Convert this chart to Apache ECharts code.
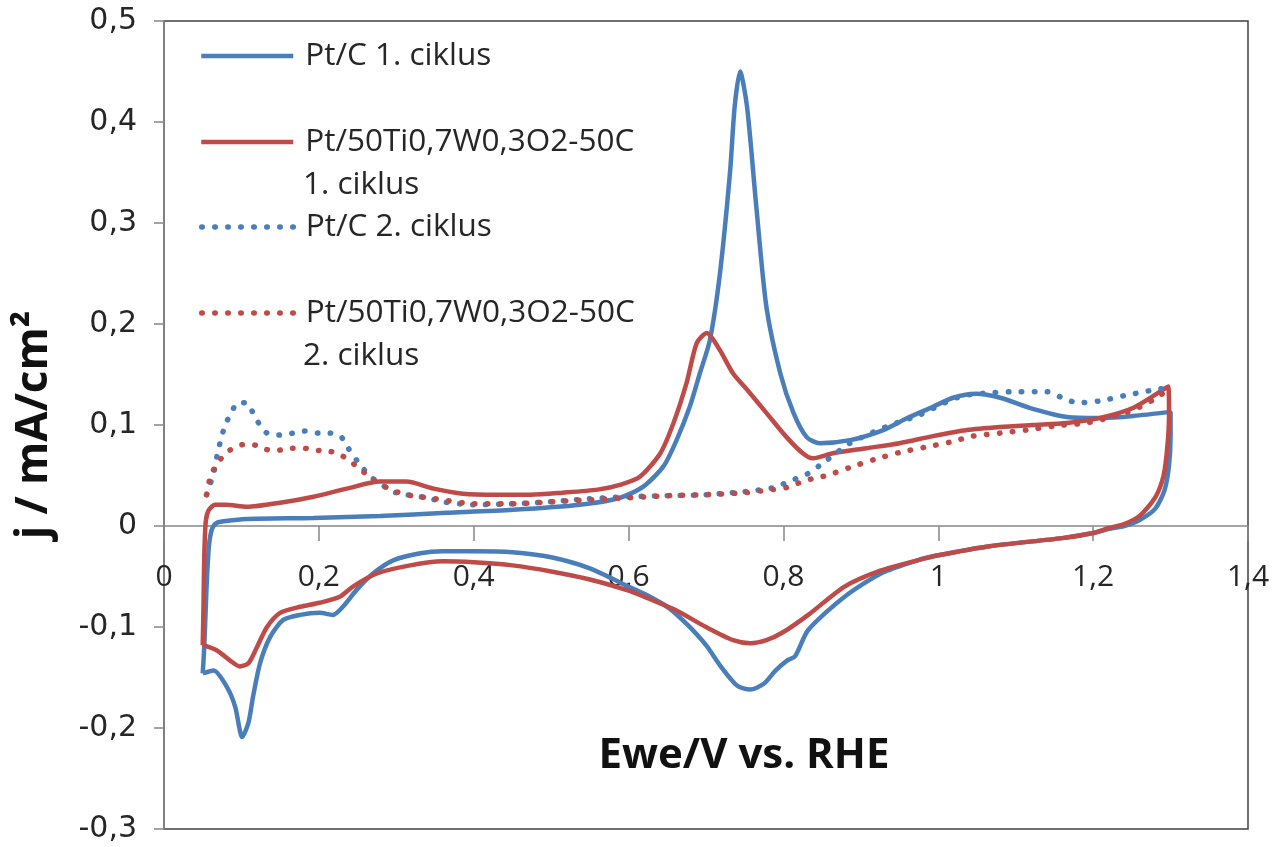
<!DOCTYPE html>
<html>
<head>
<meta charset="utf-8">
<script src="https://cdn.jsdelivr.net/npm/echarts@6/dist/echarts.min.js"></script>
<style>html,body{margin:0;padding:0;background:#fff;}#c{width:1279px;height:847px;}</style>
</head>
<body>
<div id="c"></div>
<script>
// Series names
const seriesNames = ['Pt/C 1. ciklus', 'Pt/50Ti0,7W0,3O2-50C 1. ciklus', 'Pt/C 2. ciklus', 'Pt/50Ti0,7W0,3O2-50C 2. ciklus'];
const legendFirstLines = ['Pt/C 1. ciklus', 'Pt/50Ti0,7W0,3O2-50C', 'Pt/C 2. ciklus', 'Pt/50Ti0,7W0,3O2-50C'];
const legendSecondLines = ['', '1. ciklus', '', '2. ciklus'];
const xTicks = [0, 0.2, 0.4, 0.6, 0.8, 1, 1.2, 1.4];
const yTicks = [-0.3, -0.2, -0.1, 0, 0.1, 0.2, 0.3, 0.4, 0.5];

// Pt/C 1st cycle (anodic then cathodic sweep) [E, j]
const ptc1 = [
[0.05,-0.146],[0.052,-0.12],[0.055,-0.06],[0.058,-0.02],[0.062,-0.003],[0.068,0.003],[0.08,0.005],[0.107,0.007],[0.193,0.008],[0.279,0.01],[0.365,0.013],[0.451,0.016],[0.537,0.021],[0.589,0.028],[0.619,0.039],[0.645,0.059],[0.662,0.085],[0.679,0.118],[0.692,0.151],[0.705,0.184],[0.718,0.25],[0.731,0.35],[0.737,0.415],[0.744,0.45],[0.753,0.415],[0.765,0.316],[0.778,0.217],[0.796,0.151],[0.813,0.112],[0.83,0.088],[0.847,0.082],[0.886,0.085],[0.929,0.095],[0.96,0.107],[0.993,0.118],[1.019,0.127],[1.049,0.131],[1.08,0.127],[1.122,0.116],[1.166,0.108],[1.209,0.107],[1.252,0.109],[1.3,0.113],
[1.3,0.09],[1.298,0.06],[1.292,0.035],[1.28,0.017],[1.26,0.006],[1.24,0.0],[1.22,-0.003],[1.2,-0.007],[1.16,-0.012],[1.066,-0.02],[1.0,-0.029],[0.973,-0.034],[0.926,-0.047],[0.879,-0.07],[0.832,-0.103],[0.815,-0.129],[0.805,-0.133],[0.79,-0.143],[0.775,-0.156],[0.757,-0.162],[0.74,-0.158],[0.72,-0.14],[0.7,-0.118],[0.675,-0.097],[0.65,-0.08],[0.62,-0.067],[0.6,-0.06],[0.55,-0.042],[0.5,-0.031],[0.45,-0.026],[0.4,-0.025],[0.36,-0.025],[0.331,-0.027],[0.296,-0.034],[0.27,-0.047],[0.249,-0.063],[0.231,-0.08],[0.218,-0.088],[0.201,-0.086],[0.176,-0.088],[0.154,-0.093],[0.137,-0.11],[0.124,-0.136],[0.115,-0.169],[0.109,-0.195],[0.101,-0.209],[0.092,-0.179],[0.081,-0.159],[0.064,-0.143],[0.05,-0.146]
];

// Pt/50Ti0,7W0,3O2-50C 1st cycle
const ptti1 = [
[0.05,-0.118],[0.051,-0.08],[0.052,-0.03],[0.054,0.005],[0.058,0.016],[0.066,0.021],[0.08,0.021],[0.107,0.019],[0.15,0.023],[0.193,0.029],[0.236,0.037],[0.279,0.044],[0.313,0.044],[0.348,0.037],[0.386,0.032],[0.43,0.031],[0.473,0.031],[0.515,0.033],[0.56,0.036],[0.59,0.041],[0.615,0.049],[0.641,0.072],[0.658,0.102],[0.675,0.142],[0.688,0.181],[0.701,0.191],[0.718,0.174],[0.735,0.151],[0.753,0.135],[0.778,0.112],[0.804,0.088],[0.825,0.072],[0.838,0.067],[0.864,0.072],[0.907,0.077],[0.95,0.082],[0.993,0.089],[1.037,0.095],[1.08,0.098],[1.122,0.1],[1.166,0.102],[1.209,0.107],[1.252,0.117],[1.297,0.138],
[1.298,0.11],[1.296,0.08],[1.291,0.05],[1.28,0.028],[1.26,0.01],[1.24,0.002],[1.22,-0.002],[1.2,-0.007],[1.16,-0.012],[1.066,-0.02],[1.0,-0.029],[0.973,-0.034],[0.926,-0.044],[0.879,-0.06],[0.832,-0.088],[0.8,-0.105],[0.778,-0.113],[0.757,-0.116],[0.735,-0.113],[0.7,-0.1],[0.66,-0.083],[0.62,-0.07],[0.6,-0.064],[0.55,-0.053],[0.5,-0.045],[0.45,-0.039],[0.4,-0.036],[0.36,-0.035],[0.318,-0.039],[0.275,-0.047],[0.244,-0.06],[0.227,-0.07],[0.201,-0.076],[0.176,-0.08],[0.15,-0.086],[0.133,-0.1],[0.12,-0.12],[0.109,-0.136],[0.098,-0.139],[0.085,-0.133],[0.068,-0.123],[0.05,-0.118]
];

// Pt/C 2nd cycle (anodic sweep)
const ptc2 = [
[0.055,0.031],[0.064,0.052],[0.07,0.075],[0.079,0.1],[0.087,0.112],[0.095,0.122],[0.107,0.122],[0.115,0.112],[0.123,0.101],[0.133,0.092],[0.15,0.09],[0.167,0.092],[0.182,0.094],[0.199,0.092],[0.214,0.092],[0.229,0.088],[0.238,0.077],[0.249,0.065],[0.257,0.057],[0.268,0.048],[0.279,0.042],[0.296,0.034],[0.313,0.031],[0.34,0.028],[0.36,0.024],[0.4,0.021],[0.45,0.022],[0.5,0.024],[0.55,0.027],[0.6,0.029],[0.65,0.03],[0.7,0.031],[0.75,0.034],[0.787,0.038],[0.81,0.045],[0.832,0.052],[0.847,0.06],[0.873,0.075],[0.886,0.082],[0.916,0.093],[0.946,0.102],[0.976,0.11],[0.995,0.117],[1.02,0.126],[1.04,0.13],[1.07,0.132],[1.1,0.133],[1.14,0.133],[1.16,0.127],[1.18,0.122],[1.21,0.124],[1.24,0.129],[1.26,0.132],[1.28,0.135],[1.3,0.137]
];

// Pt/50Ti0,7W0,3O2-50C 2nd cycle (anodic sweep)
const ptti2 = [
[0.055,0.031],[0.059,0.046],[0.066,0.059],[0.074,0.067],[0.085,0.075],[0.098,0.08],[0.113,0.081],[0.13,0.076],[0.147,0.075],[0.165,0.077],[0.18,0.077],[0.197,0.075],[0.214,0.074],[0.229,0.07],[0.244,0.062],[0.257,0.054],[0.268,0.047],[0.28,0.041],[0.3,0.034],[0.32,0.03],[0.35,0.027],[0.4,0.022],[0.45,0.022],[0.5,0.024],[0.55,0.026],[0.6,0.028],[0.65,0.03],[0.7,0.031],[0.75,0.033],[0.785,0.036],[0.804,0.038],[0.821,0.043],[0.838,0.047],[0.856,0.05],[0.886,0.058],[0.918,0.066],[0.951,0.073],[0.983,0.078],[1.015,0.083],[1.045,0.089],[1.08,0.092],[1.114,0.095],[1.15,0.099],[1.19,0.102],[1.22,0.107],[1.252,0.115],[1.28,0.126],[1.3,0.137]
];

const BLUE = '#4A7EBB', RED = '#BE4B48';
const FONT = 'Open Sans';
const TXT = '#262626';
const fmt = v => (Math.round(v * 10) / 10).toString().replace('.', ',');

const chart = echarts.init(document.getElementById('c'), null, {renderer: 'canvas'});

const dataSets = [ptc1, ptti1, ptc2, ptti2];
const colors = [BLUE, RED, BLUE, RED];
const dotted = [false, false, true, true];

const series = dataSets.map((d, i) => ({
  name: seriesNames[i],
  type: 'line',
  data: d,
  symbol: 'none',
  showSymbol: false,
  smooth: 0.25,
  z: 2 + i,
  color: colors[i],
  lineStyle: dotted[i]
    ? {color: colors[i], width: 5.5, type: [0.5, 12.5], cap: 'round'}
    : {color: colors[i], width: 4.5},
  emphasis: {disabled: true}
}));

const legendCenters = [56, 142, 227, 313];
const legends = seriesNames.map((n, i) => ({
  data: [n],
  left: 199,
  top: legendCenters[i] - 20,
  padding: 0,
  orient: 'vertical',
  itemWidth: 92,
  itemHeight: 14,
  selectedMode: false,
  formatter: () => legendFirstLines[i],
  itemStyle: {opacity: 0},
  textStyle: {fontSize: 31.5, fontFamily: FONT, color: TXT, lineHeight: 40, padding: [0, 0, 0, 7]},
  lineStyle: {width: 'inherit', type: 'inherit', cap: 'inherit'}
}));

const graphics = [];
legendSecondLines.forEach((t, i) => {
  if (t) graphics.push({
    type: 'text', x: 303, y: legendCenters[i] + 43,
    style: {text: t, fontSize: 31.5, fontFamily: FONT, fill: TXT, align: 'left', verticalAlign: 'middle'}
  });
});

chart.setOption({
  animation: false,
  backgroundColor: '#fff',
  grid: {left: 164, right: 31, top: 21, bottom: 18, show: true, borderColor: '#404040', borderWidth: 1.5, containLabel: false, outerBoundsMode: 'none'},
  legend: legends,
  graphic: graphics,
  xAxis: {
    type: 'value', min: xTicks[0], max: xTicks[xTicks.length - 1], interval: 0.2,
    axisLine: {onZero: true, lineStyle: {color: '#868686', width: 1.5}},
    axisTick: {show: true, length: 15, lineStyle: {color: '#868686', width: 1.5}},
    axisLabel: {margin: -267, fontSize: 30, fontFamily: FONT, color: TXT, formatter: fmt, showMinLabel: true, showMaxLabel: true},
    splitLine: {show: false},
    name: 'Ewe/V vs. RHE', nameLocation: 'middle', nameGap: -94,
    nameTextStyle: {fontSize: 42, fontWeight: 'bold', fontFamily: FONT, color: '#111', padding: [0, 0, 0, 76]}
  },
  yAxis: {
    type: 'value', min: yTicks[0], max: yTicks[yTicks.length - 1], interval: 0.1,
    axisLine: {show: true, onZero: false, lineStyle: {color: '#868686', width: 1.5}},
    axisTick: {show: true, length: 10, lineStyle: {color: '#868686', width: 1.5}},
    axisLabel: {margin: 27, fontSize: 30, fontFamily: 'DejaVu Sans', color: TXT, formatter: fmt, showMinLabel: true, showMaxLabel: true},
    splitLine: {show: false},
    name: 'j / mA/cm²', nameLocation: 'middle', nameGap: 108,
    nameTextStyle: {fontSize: 44, fontWeight: 'bold', fontFamily: FONT, color: '#111'}
  },
  series: series
});
</script>
</body>
</html>
